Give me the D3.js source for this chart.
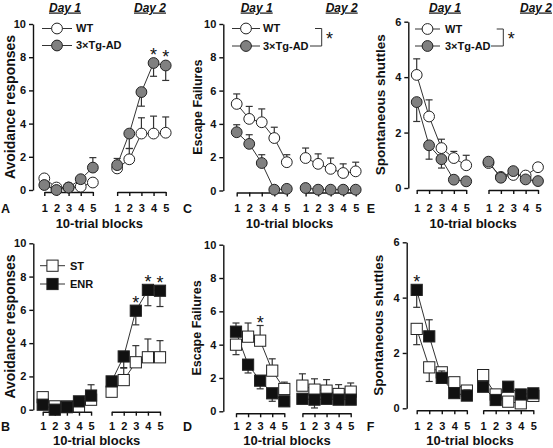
<!DOCTYPE html>
<html>
<head>
<meta charset="utf-8">
<script src="https://cdn.jsdelivr.net/npm/d3@7/dist/d3.min.js"></script>
<style>
  body { margin: 0; background: #fff; }
  text { font-family: "Liberation Sans", Arial, Helvetica, sans-serif; font-weight: bold; fill: #111; }
</style>
</head>
<body>
<svg id="chart" width="553" height="448"></svg>
<script>
// tick labels
const blocks = [1, 2, 3, 4, 5];
const yTicks10 = [0, 2, 4, 6, 8, 10];
const yTicks6 = [0, 2, 4, 6];

// values: 5 blocks of day 1, then 5 blocks of day 2
// errors: signed, negative = bar drawn downward
const avoidWT = [0.7, 0.15, 0.15, 0.2, 0.45, 1.3, 1.85, 3.4, 3.4, 3.45];
const avoidWTErr = [0, 0, 0, 0, 0, 0, 0.65, 0.95, 1.05, 0.95];
const avoidTg = [0.3, 0.0, 0.15, 0.65, 1.35, 1.5, 3.4, 5.9, 7.65, 7.5];
const avoidTgErr = [0, 0, 0, 0, 0.6, 0.4, -0.9, -0.85, -0.8, -0.9];

const escWT = [5.2, 4.3, 4.1, 3.15, 1.7, 1.95, 1.6, 1.3, 1.05, 1.15];
const escWTErr = [0.6, 0.75, 0.8, 0.65, 0.45, 0.6, 0.6, 0.65, 0.55, 0.55];
const escTg = [3.5, 2.8, 1.65, 0.05, 0.1, 0.15, 0.05, 0.05, 0.05, 0.05];
const escTgErr = [0.45, 0.55, 0.5, 0, 0, 0, 0, 0, 0, 0];

const shutWT = [4.08, 2.58, 1.44, 1.08, 0.82, 0.9, 0.4, 0.47, 0.45, 0.75];
const shutWTErr = [0.58, 0.6, 0.32, 0.24, 0.36, 0, 0, 0, 0, 0];
const shutTg = [3.1, 1.54, 1.04, 0.3, 0.24, 0.95, 0.37, 0.61, 0.31, 0.25];
const shutTgErr = [-0.7, -0.5, -0.32, 0, 0, 0, 0, 0, 0, 0];

const avoidST = [0.75, 0.2, 0.2, 0.2, 0.6, 1.08, 1.78, 2.85, 3.15, 3.15];
const avoidSTErr = [0.15, 0, 0, 0, 0, 0, 0.75, 1.0, 1.1, 1.0];
const avoidENR = [0.3, 0.0, 0.15, 0.5, 0.85, 1.7, 3.2, 5.95, 7.2, 7.15];
const avoidENRErr = [0, 0, 0, 0, 0.65, 0, -0.7, -0.85, -0.95, -0.95];

const escST = [4.0, 4.48, 4.24, 2.44, 1.34, 1.54, 1.3, 1.24, 1.04, 1.18];
const escSTErr = [-0.6, 0.82, 0.91, 0.71, 0.41, 0.71, 0.65, 0.66, 0.56, 0.52];
const escENR = [4.78, 2.8, 1.84, 1.08, 0.6, 0.75, 0.7, 0.75, 0.7, 0.7];
const escENRErr = [0.52, -0.5, -0.49, -0.48, 0, 0, -0.5, 0, 0, 0];

const shutST = [2.87, 1.48, 1.3, 0.94, 0.64, 1.2, 0.5, 0.24, 0.18, 0.45];
const shutSTErr = [-0.57, -0.51, 0, 0, 0, 0.15, 0, 0, 0, 0];
const shutENR = [4.28, 2.6, 1.1, 0.55, 0.46, 0.78, 0.3, 0.78, 0.5, 0.54];
const shutENRErr = [-0.63, 0.6, 0.25, 0, 0.2, 0, 0, 0.15, 0, 0.1];

// significance stars (index into the 10 blocks)
const starsA = [8, 9];
const starsB = [7, 8, 9];
const starsD = [2];
const starsF = [0];

const GRAY = '#808080';
const svg = d3.select('#chart');

const wt = (v, e) => ({ vals: v, err: e, shape: 'circle', fill: '#fff' });
const tg = (v, e) => ({ vals: v, err: e, shape: 'circle', fill: GRAY });
const st = (v, e) => ({ vals: v, err: e, shape: 'square', fill: '#fff' });
const enr = (v, e) => ({ vals: v, err: e, shape: 'square', fill: '#111' });

const panels = [
  { letter: 'A', lx: 1, title: 'Avoidance responses', tx: 10, tsize: 14,
    ax: 33, x1: 44.3, xEnd: 165.7, gap: 6, y0: 190, yTop: 24, yMax: 10, yTicks: yTicks10,
    row: 'top', series: [wt(avoidWT, avoidWTErr), tg(avoidTg, avoidTgErr)], stars: starsA,
    days: [65, 150], legend: { x0: 42, x1: 72, tx: 76, ys: [28.5, 45.5], labels: ['WT', '3×Tg-AD'] } },
  { letter: 'C', lx: 183, title: 'Escape Failures', tx: 198, tsize: 12.5,
    ax: 223.3, x1: 236.7, xEnd: 355.7, gap: 5.5, y0: 190.5, yTop: 24, yMax: 10, yTicks: yTicks10,
    row: 'top', series: [wt(escWT, escWTErr), tg(escTg, escTgErr)], stars: [],
    days: [256.7, 341.7], legend: { x0: 232, x1: 260, tx: 263, ys: [28.5, 46], labels: ['WT', '3×Tg-AD'],
      bracket: { x: 321.7, top0: 315, bot0: 310, star: [326, 35] } } },
  { letter: 'E', lx: 366.7, title: 'Spontaneous shuttles', tx: 380, tsize: 13.5,
    ax: 408.3, x1: 416.7, xEnd: 538, gap: 5.8, y0: 188, yTop: 21.7, yMax: 6, yTicks: yTicks6,
    row: 'top', series: [wt(shutWT, shutWTErr), tg(shutTg, shutTgErr)], stars: [],
    days: [445, 536], legend: { x0: 415, x1: 440, tx: 445, ys: [29, 46], labels: ['WT', '3×Tg-AD'],
      bracket: { x: 503.3, top0: 496.7, bot0: 491, star: [507.7, 35] } } },
  { letter: 'B', lx: 1, title: 'Avoidance responses', tx: 10, tsize: 14,
    ax: 33.3, x1: 42.7, xEnd: 160, gap: 5.7, y0: 409.7, yTop: 243.3, yMax: 10, yTicks: yTicks10,
    row: 'bottom', series: [st(avoidST, avoidSTErr), enr(avoidENR, avoidENRErr)], stars: starsB,
    legend: { x0: 40, x1: 65, tx: 70, ys: [265.7, 284], labels: ['ST', 'ENR'] } },
  { letter: 'D', lx: 183, title: 'Escape Failures', tx: 196.7, tsize: 12.5,
    ax: 223.3, x1: 236, xEnd: 350.7, gap: 5.5, y0: 411.3, yTop: 244.7, yMax: 10, yTicks: yTicks10,
    row: 'bottom', series: [st(escST, escSTErr), enr(escENR, escENRErr)], stars: starsD },
  { letter: 'F', lx: 366.7, title: 'Spontaneous shuttles', tx: 378.3, tsize: 13.5,
    ax: 406.7, x1: 416.7, xEnd: 533.3, gap: 5.3, y0: 408.3, yTop: 242.3, yMax: 6, yTicks: yTicks6,
    row: 'bottom', series: [st(shutST, shutSTErr), enr(shutENR, shutENRErr)], stars: starsF }
];

function drawMarker(sel, shape, cx, cy, fill) {
  if (shape === 'circle') {
    sel.append('circle').attr('cx', cx).attr('cy', cy).attr('r', 5.4)
      .attr('fill', fill).attr('stroke', '#222').attr('stroke-width', 1);
  } else {
    sel.append('rect').attr('x', cx - 5.6).attr('y', cy - 5.6).attr('width', 11.2).attr('height', 11.2)
      .attr('fill', fill).attr('stroke', '#222').attr('stroke-width', 1);
  }
}

function drawPanel(p) {
  const g = svg.append('g');
  const x = d3.scaleLinear().domain([1, 5 + p.gap]).range([p.x1, p.xEnd]);
  const y = d3.scaleLinear().domain([0, p.yMax]).range([p.y0, p.yTop]);
  const xPos = i => x(i < 5 ? blocks[i] : blocks[i - 5] + p.gap);
  const axisY = p.y0 + 2;
  const labelY = p.row === 'top' ? 208 : 426.5;

  // y axis
  const ya = g.append('g').attr('transform', `translate(${p.ax},0)`)
    .call(d3.axisLeft(y).tickValues(p.yTicks).tickFormat(d3.format('d'))
      .tickSize(4).tickSizeOuter(0).tickPadding(3));
  ya.selectAll('path, line').attr('stroke', '#111').attr('stroke-width', 1.4);
  ya.selectAll('text').style('font-size', '11px');

  // x axis, one bracket per day
  [0, p.gap].forEach(off => {
    const xd = d3.scaleLinear().domain([1, 5]).range([x(1 + off), x(5 + off)]);
    const xa = g.append('g').attr('transform', `translate(0,${axisY})`)
      .call(d3.axisBottom(xd).tickValues(blocks).tickFormat(d3.format('d'))
        .tickSize(4).tickSizeOuter(0).tickPadding(labelY - axisY - 8));
    xa.selectAll('path, line').attr('stroke', '#111').attr('stroke-width', 1.4);
    xa.selectAll('text').style('font-size', '11px');
  });

  // titles
  g.append('text').attr('transform', `translate(${p.tx},${(p.y0 + p.yTop) / 2}) rotate(-90)`)
    .attr('text-anchor', 'middle').attr('dy', '0.35em').style('font-size', p.tsize + 'px').text(p.title);
  g.append('text').attr('x', (p.ax + p.xEnd) / 2).attr('y', p.row === 'top' ? 227.5 : 445)
    .attr('text-anchor', 'middle').style('font-size', '13px').text('10-trial blocks');
  g.append('text').attr('x', p.lx).attr('y', labelY + 4.5).style('font-size', '12.5px').text(p.letter);

  if (p.days) {
    p.days.forEach((dx, k) => {
      g.append('text').attr('x', dx).attr('y', 11.5).attr('text-anchor', 'middle')
        .style('font-size', '12px').style('font-style', 'italic').style('text-decoration', 'underline')
        .text('Day ' + (k + 1));
    });
  }

  // lines within each day
  const line = d3.line().x(d => d.x).y(d => d.y);
  p.series.forEach(s => {
    [0, 5].forEach(start => {
      const pts = d3.range(start, start + 5).map(i => ({ x: xPos(i), y: y(s.vals[i]) }));
      g.append('path').attr('d', line(pts)).attr('fill', 'none').attr('stroke', '#333').attr('stroke-width', 1);
    });
  });

  // error bars then markers, series by series
  p.series.forEach(s => {
    s.vals.forEach((v, i) => {
      const e = s.err[i];
      if (!e) return;
      const cx = xPos(i), yEnd = y(v + e);
      g.append('line').attr('x1', cx).attr('x2', cx).attr('y1', y(v)).attr('y2', yEnd)
        .attr('stroke', '#333').attr('stroke-width', 1.2);
      g.append('line').attr('x1', cx - 3.5).attr('x2', cx + 3.5).attr('y1', yEnd).attr('y2', yEnd)
        .attr('stroke', '#333').attr('stroke-width', 1.2);
    });
    s.vals.forEach((v, i) => drawMarker(g, s.shape, xPos(i), y(v), s.fill));
  });

  // stars above the highest mark at that block
  p.stars.forEach(i => {
    const top = d3.min(p.series, s => Math.min(y(s.vals[i]) - 5.6, y(s.vals[i] + s.err[i])));
    g.append('text').attr('x', xPos(i)).attr('y', top - 6.5 + 10).attr('text-anchor', 'middle')
      .style('font-size', '18px').style('font-weight', 'normal').text('*');
  });

  // legend
  if (p.legend) {
    const L = p.legend;
    L.ys.forEach((ly, k) => {
      const s = p.series[k];
      g.append('line').attr('x1', L.x0).attr('x2', L.x1).attr('y1', ly).attr('y2', ly)
        .attr('stroke', '#333').attr('stroke-width', 1);
      drawMarker(g, s.shape, (L.x0 + L.x1) / 2, ly, s.fill);
      g.append('text').attr('x', L.tx).attr('y', ly).attr('dy', '0.36em')
        .style('font-size', '11px').text(L.labels[k]);
    });
    if (L.bracket) {
      const b = L.bracket;
      g.append('path').attr('d', `M${b.top0},${L.ys[0]}H${b.x}V${L.ys[1]}H${b.bot0}`)
        .attr('fill', 'none').attr('stroke', '#333').attr('stroke-width', 1);
      g.append('text').attr('x', b.star[0]).attr('y', b.star[1] + 10).style('font-size', '18px')
        .style('font-weight', 'normal').text('*');
    }
  }
}

panels.forEach(drawPanel);
</script>
</body>
</html>
